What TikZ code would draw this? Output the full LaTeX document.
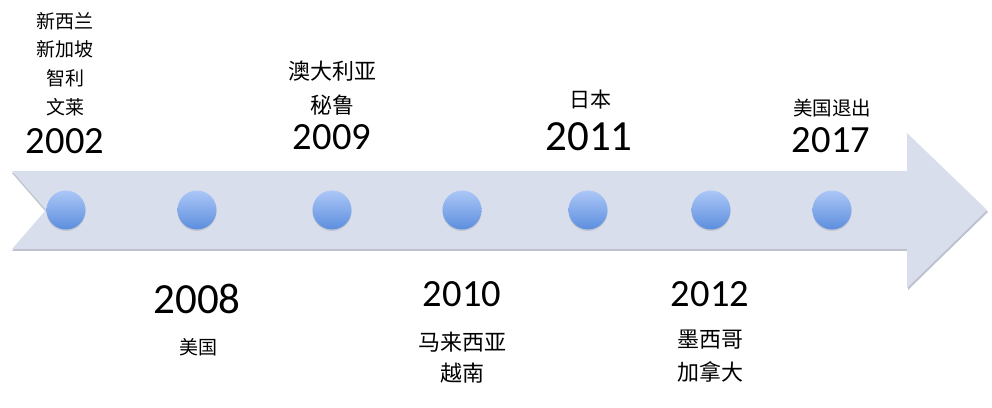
\documentclass[tikz,border=0pt]{standalone}
\usepackage{fontspec}
\setmainfont{Carlito}
\newfontfamily\cjk{Noto Sans CJK SC}
\usepackage{tikz}
\usetikzlibrary{positioning}
\usetikzlibrary{shadows}
\definecolor{bandfill}{RGB}{216,222,236}
\definecolor{bandshadow}{RGB}{190,194,206}
\definecolor{dottop}{RGB}{172,199,247}
\definecolor{dotbottom}{RGB}{92,142,222}
\tikzstyle{dot} = [circle, minimum size=39pt, inner sep=0pt, top color=dottop, bottom color=dotbottom, drop shadow={shadow xshift=0pt, shadow yshift=-1.5pt, opacity=0.25}]
\tikzstyle{year} = [inner sep=0pt, font=\fontsize{38.5}{46}\selectfont]
\tikzstyle{bigyear} = [year, font=\fontsize{43}{52}\selectfont]
\tikzstyle{country} = [inner sep=0pt, align=center, font=\cjk\fontsize{20}{31}\selectfont]

\begin{document}
\begin{tikzpicture}[x=1pt,y=1pt]
    \useasboundingbox (0,0) rectangle (992,407);

    % band with arrow head
    \fill[bandshadow] (12,234) -- (908,234) -- (908,272) -- (988,195) -- (908,117) -- (908,156) -- (12,156) -- (46,195) -- cycle;
    \fill[bandfill] (12,236) -- (907,236) -- (907,274) -- (987,197) -- (907,119) -- (907,158) -- (12,158) -- (46,197) -- cycle;

    \node [dot] (d2002) at (66,197) {};
    \node [dot] (d2008) at (197,197) {};
    \node [dot] (d2009) at (332,197) {};
    \node [dot] (d2010) at (462,197) {};
    \node [dot] (d2011) at (588,197) {};
    \node [dot] (d2012) at (711,197) {};
    \node [dot] (d2017) at (832,197) {};

    % above the band
    \node [year] (y2002) at (65,266) {2002};
    \node [country, font=\cjk\fontsize{19}{28.7}\selectfont] (c2002) at (65,343) {新西兰\\新加坡\\智利\\文莱};
    \node [year] (y2009) at (332,269.5) {2009};
    \node [country, font=\cjk\fontsize{22}{34}\selectfont] (c2009) at (332,319) {澳大利亚\\秘鲁};
    \node [bigyear] (y2011) at (589,270) {2011};
    \node [country, font=\cjk\fontsize{21}{31}\selectfont] (c2011) at (590,307) {日本};
    \node [year] (y2017) at (831,267) {2017};
    \node [country, font=\cjk\fontsize{19.5}{31}\selectfont] (c2017) at (832,299) {美国退出};

    % below the band
    \node [bigyear] (y2008) at (197,108) {2008};
    \node [country, font=\cjk\fontsize{19}{31}\selectfont] (c2008) at (198,60) {美国};
    \node [year] (y2010) at (462,113) {2010};
    \node [country, font=\cjk\fontsize{22}{31}\selectfont] (c2010) at (462,49.5) {马来西亚\\越南};
    \node [year] (y2012) at (710,113) {2012};
    \node [country, font=\cjk\fontsize{22}{33}\selectfont] (c2012) at (710,50.5) {墨西哥\\加拿大};
\end{tikzpicture}
\end{document}
